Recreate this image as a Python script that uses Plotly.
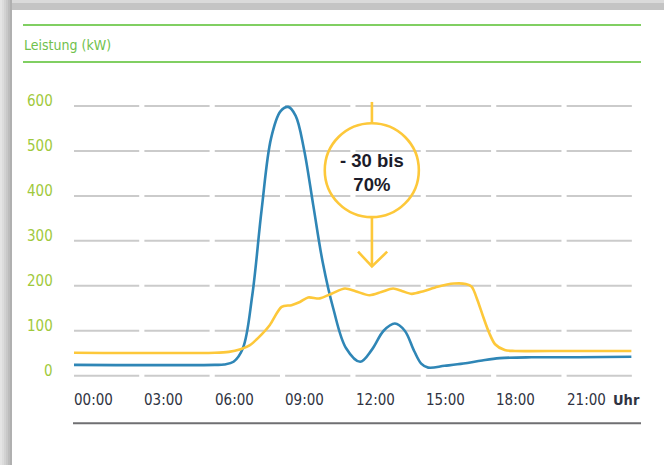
import plotly.graph_objects as go

# ---- data ----
hours_blue = [0, 6.0, 6.4, 6.8, 7.2, 7.6, 8.0, 8.4, 8.8, 9.13, 9.45, 9.8, 10.2, 10.6,
              11.05, 11.6, 12.2, 12.7, 13.2, 13.68, 14.1, 14.5, 14.8, 15.1, 15.8, 16.6, 17.4, 18.15, 19.5, 21.5, 23.76]
power_blue = [24, 24, 25, 31, 61, 179, 370, 528, 588, 598, 578, 505, 379, 253,
              150, 61, 31, 58, 100, 116, 100, 55, 27, 18, 22, 27, 34, 39, 41, 41, 42]

hours_yellow = [0, 6.0, 6.6, 7.1, 7.5, 8.0, 8.35, 8.85, 9.27, 9.63, 9.98, 10.48, 11.0, 11.55,
                12.0, 12.6, 13.1, 13.6, 14.0, 14.4, 14.9, 15.5, 16.2, 16.7, 16.95, 17.2, 17.45,
                17.7, 17.95, 18.36, 18.8, 21.0, 23.76]
power_yellow = [51, 51, 53, 59, 68, 92, 113, 153, 157, 164, 174, 172, 183, 194,
                188, 179, 186, 194, 188, 182, 188, 198, 205, 204, 198, 168, 130,
                95, 70, 57, 55, 55, 55]

x_ticks = [0, 3, 6, 9, 12, 15, 18, 21]
x_labels = ["00:00", "03:00", "06:00", "09:00", "12:00", "15:00", "18:00", "21:00"]
y_ticks = [0, 100, 200, 300, 400, 500, 600]
y_labels = ["0", "100", "200", "300", "400", "500", "600"]

title_text = "Leistung (kW)"
unit_text = "Uhr"
note_text = "- 30 bis<br>70%"

# ---- layout geometry ----
W, H = 664, 465
ML, MR, MT, MB = 74, 27, 95, 35
PW, PH = W - ML - MR, H - MT - MB
Y_PER_PX = 1 / 0.4495
y_top = (375.7 - MT) * Y_PER_PX
y_bot = (375.7 - (H - MB)) * Y_PER_PX


def xp(px):
    return (px - ML) / PW


def yp(py):
    return (H - MB - py) / PH


BLUE = "#2f86b6"
YELLOW = "#fdc83a"
GREEN_LINE = "#80cf62"
GREEN_TEXT = "#6fc14c"
YLAB = "#9fc93c"
GRID = "#cbcbcb"
DARK = "#2f3342"
COND = "DejaVu Sans Condensed, Liberation Sans Narrow, Arial Narrow, sans-serif"

fig = go.Figure()
fig.add_trace(go.Scatter(x=hours_blue, y=power_blue, mode="lines",
                         line=dict(color=BLUE, width=2.6, shape="spline", smoothing=1.0),
                         hoverinfo="skip", showlegend=False))
fig.add_trace(go.Scatter(x=hours_yellow, y=power_yellow, mode="lines",
                         line=dict(color=YELLOW, width=2.6, shape="spline", smoothing=0.8),
                         hoverinfo="skip", showlegend=False))

shapes = []
# frame shadow
shapes.append(dict(type="rect", xref="paper", yref="paper", x0=xp(0), x1=xp(W), y0=yp(0), y1=yp(10),
                   fillcolor="#c4c4c4", line_width=0, layer="below"))
shapes.append(dict(type="rect", xref="paper", yref="paper", x0=xp(0), x1=xp(W), y0=yp(0), y1=yp(3),
                   fillcolor="#dadada", line_width=0, layer="below"))
for i, c in enumerate(["#e4e4e4", "#dcdcdc", "#d2d2d2", "#c8c8c8", "#bcbcbc", "#b0b0b0"]):
    shapes.append(dict(type="rect", xref="paper", yref="paper", x0=xp(i * 2), x1=xp(i * 2 + 2),
                       y0=yp(H), y1=yp(0), fillcolor=c, line_width=0, layer="below"))
# green rules
for py in (25, 62):
    shapes.append(dict(type="line", xref="paper", yref="paper", x0=xp(23), x1=xp(641), y0=yp(py), y1=yp(py),
                       line=dict(color=GREEN_LINE, width=2)))
# bottom rule
shapes.append(dict(type="line", xref="paper", yref="paper", x0=xp(73), x1=xp(641), y0=yp(423.3), y1=yp(423.3),
                   line=dict(color="#6f6f72", width=2)))
# segmented gridlines
for yv in y_ticks:
    for xv in x_ticks:
        shapes.append(dict(type="line", xref="x", yref="y", x0=xv, x1=xv + 2.78, y0=yv, y1=yv,
                           line=dict(color=GRID, width=2), layer="below"))
# annotation circle and arrow
shapes.append(dict(type="circle", xref="x", yref="y", x0=10.69, x1=14.70, y0=352.7, y1=561.6,
                   line=dict(color=YELLOW, width=2.6), fillcolor="rgba(255,255,255,0)"))
shapes.append(dict(type="line", xref="x", yref="y", x0=12.7, x1=12.7, y0=561.6, y1=609,
                   line=dict(color=YELLOW, width=2.6)))
shapes.append(dict(type="line", xref="x", yref="y", x0=12.7, x1=12.7, y0=352.7, y1=243,
                   line=dict(color=YELLOW, width=2.6)))
shapes.append(dict(type="path", xref="x", yref="y", path="M 12.11 275.9 L 12.70 243 L 13.35 275.9",
                   line=dict(color=YELLOW, width=2.6)))

ann = []
ann.append(dict(text=title_text, xref="paper", yref="paper", x=xp(22), y=yp(45), xanchor="left",
                yanchor="middle", showarrow=False,
                font=dict(family=COND, size=14, color=GREEN_TEXT)))
for xv, lab in zip(x_ticks, x_labels):
    ann.append(dict(text=lab, xref="x", yref="paper", x=xv, y=yp(400), xanchor="left", yanchor="middle",
                    showarrow=False, xshift=-2,
                    font=dict(family=COND, size=15, color=DARK)))
ann.append(dict(text="<b>" + unit_text + "</b>", xref="paper", yref="paper", x=xp(642), y=yp(400),
                xanchor="right", yanchor="middle", showarrow=False,
                font=dict(family=COND, size=14.5, color=DARK)))
for yv, lab in zip(y_ticks, y_labels):
    ann.append(dict(text=lab, xref="paper", yref="y", x=xp(55), y=yv, xanchor="right", yanchor="middle",
                    yshift=5, showarrow=False,
                    font=dict(family=COND, size=15, color=YLAB)))
ann.append(dict(text="<b>" + note_text + "</b>", xref="x", yref="y", x=12.7, y=451, xanchor="center",
                yanchor="middle", showarrow=False, align="center",
                font=dict(family="Liberation Sans, Arial, sans-serif", size=18.5, color="#1c1c2a")))

fig.update_layout(
    width=W, height=H,
    margin=dict(l=ML, r=MR, t=MT, b=MB, pad=0),
    paper_bgcolor="white", plot_bgcolor="rgba(0,0,0,0)",
    xaxis=dict(range=[0, 24], showgrid=False, zeroline=False, showticklabels=False, showline=False,
               fixedrange=True),
    yaxis=dict(range=[y_bot, y_top], showgrid=False, zeroline=False, showticklabels=False, showline=False,
               fixedrange=True),
    shapes=shapes, annotations=ann, showlegend=False,
)

fig.write_html("out.html", config={"displayModeBar": False},
               post_script="document.body.style.margin='0px';")
